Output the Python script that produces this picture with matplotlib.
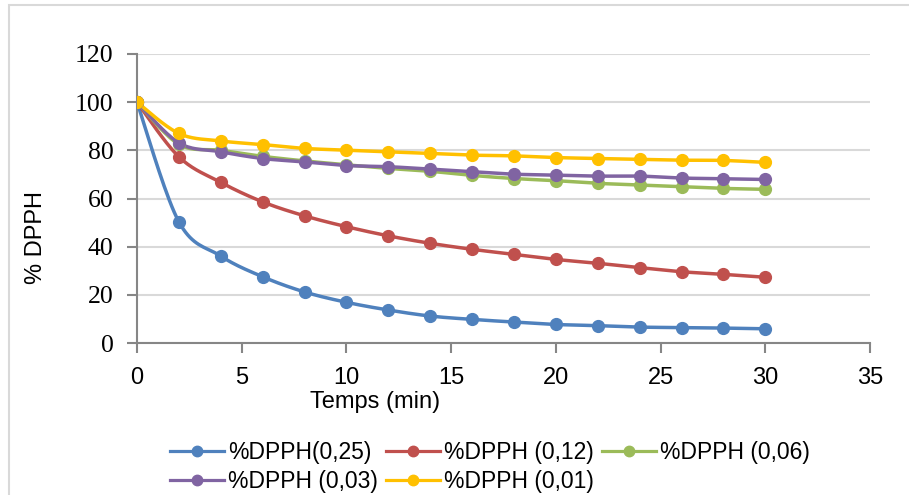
import numpy as np
from matplotlib import pyplot as plt
from matplotlib.patches import Rectangle
from matplotlib.lines import Line2D

# temps (min)
t = [0, 2, 4, 6, 8, 10, 12, 14, 16, 18, 20, 22, 24, 26, 28, 30]

dpph_025 = [100, 50.3, 36.1, 27.5, 21.2, 16.9, 13.7, 11.2, 9.8, 8.7, 7.7, 7.2, 6.6, 6.4, 6.2, 5.9]
dpph_012 = [100, 77.3, 66.7, 58.6, 52.8, 48.3, 44.5, 41.4, 38.9, 36.8, 34.7, 33.1, 31.3, 29.6, 28.5, 27.3]
dpph_006 = [100, 82.5, 80.0, 77.5, 75.6, 74.0, 72.5, 71.3, 69.6, 68.3, 67.4, 66.3, 65.6, 64.9, 64.2, 63.8]
dpph_003 = [100, 83.1, 79.4, 76.6, 75.2, 73.7, 73.2, 72.2, 71.1, 70.1, 69.7, 69.3, 69.3, 68.5, 68.2, 67.9]
dpph_001 = [100, 87.0, 83.9, 82.4, 80.8, 80.1, 79.4, 78.7, 78.0, 77.7, 77.0, 76.6, 76.2, 75.9, 75.8, 75.0]

labels = ['%DPPH(0,25)', '%DPPH (0,12)', '%DPPH (0,06)', '%DPPH (0,03)', '%DPPH (0,01)']
colors = ['#4F81BD', '#C0504D', '#9BBB59', '#8064A2', '#FFC000']
series = [dpph_025, dpph_012, dpph_006, dpph_003, dpph_001]

sans = ['Liberation Sans', 'DejaVu Sans']
serif = ['Liberation Serif', 'DejaVu Serif']


def smooth(x, y, n=20):
    # courbe lissée façon tableur (bezier, tangentes catmull-rom)
    x = np.asarray(x, float)
    y = np.asarray(y, float)
    px = np.concatenate([[x[0]], x, [x[-1]]])
    py = np.concatenate([[y[0]], y, [y[-1]]])
    xs, ys = [], []
    s = np.linspace(0, 1, n)
    for i in range(len(x) - 1):
        p0 = np.array([px[i + 1], py[i + 1]])
        p3 = np.array([px[i + 2], py[i + 2]])
        p1 = p0 + (p3 - np.array([px[i], py[i]])) / 6
        p2 = p3 - (np.array([px[i + 3], py[i + 3]]) - p0) / 6
        b = ((1 - s) ** 3)[:, None] * p0 + (3 * (1 - s) ** 2 * s)[:, None] * p1 \
            + (3 * (1 - s) * s ** 2)[:, None] * p2 + (s ** 3)[:, None] * p3
        xs.extend(b[:, 0])
        ys.extend(b[:, 1])
    return xs, ys


fig = plt.figure(figsize=(9.09, 4.95), dpi=100)
ax = fig.add_axes([137 / 909, 1 - 343 / 495, (870 - 137) / 909, (343 - 54) / 495])

fig.patches.append(Rectangle((9 / 909, -0.1), 1.0, 1 - 5 / 495 + 0.1, transform=fig.transFigure,
                             fill=False, edgecolor='#d9d9d9', linewidth=1.5))

handles = []
for y, c, lab in zip(series, colors, labels):
    xs, ys = smooth(t, y)
    ax.plot(xs, ys, color=c, lw=2.5, solid_capstyle='round', zorder=3)
    ax.plot(t, y, 'o', color=c, ms=8.5, zorder=4)
    handles.append(Line2D([], [], color=c, lw=2.3, marker='o', ms=7.5, label=lab))

ax.set_xlim(0, 35)
ax.set_ylim(0, 120)
ax.set_xticks(range(0, 36, 5))
ax.set_yticks(range(0, 121, 20))
ax.grid(axis='y', color='#d9d9d9', lw=1.5)
ax.set_axisbelow(True)
for side in ['top', 'right']:
    ax.spines[side].set_visible(False)
for side in ['left', 'bottom']:
    ax.spines[side].set_color('#868686')
    ax.spines[side].set_linewidth(1.5)
ax.tick_params(axis='both', color='#868686', length=7, width=1.5)
ax.tick_params(axis='y', pad=10)
ax.tick_params(axis='x', pad=10)
for lab in ax.get_yticklabels():
    lab.set_family(serif)
    lab.set_fontsize(18.5)
for lab in ax.get_xticklabels():
    lab.set_family(sans)
    lab.set_fontsize(17)

fig.text(36 / 909, 1 - 238 / 495, '% DPPH', rotation=90, ha='center', va='center',
         family=sans, fontsize=17)
fig.text(375 / 909, 1 - 402 / 495, 'Temps (min)', ha='center', va='center',
         family=sans, fontsize=17)

order = [0, 3, 1, 4, 2]
fig.legend([handles[i] for i in order], [labels[i] for i in order], ncol=3,
           loc='center', bbox_to_anchor=(490 / 909, 1 - 467 / 495), frameon=False,
           prop={'family': sans, 'size': 16.5}, handlelength=2.36, handletextpad=0.17,
           columnspacing=0.35, labelspacing=0.3, borderpad=0)

fig.savefig('out.png', dpi=100)
